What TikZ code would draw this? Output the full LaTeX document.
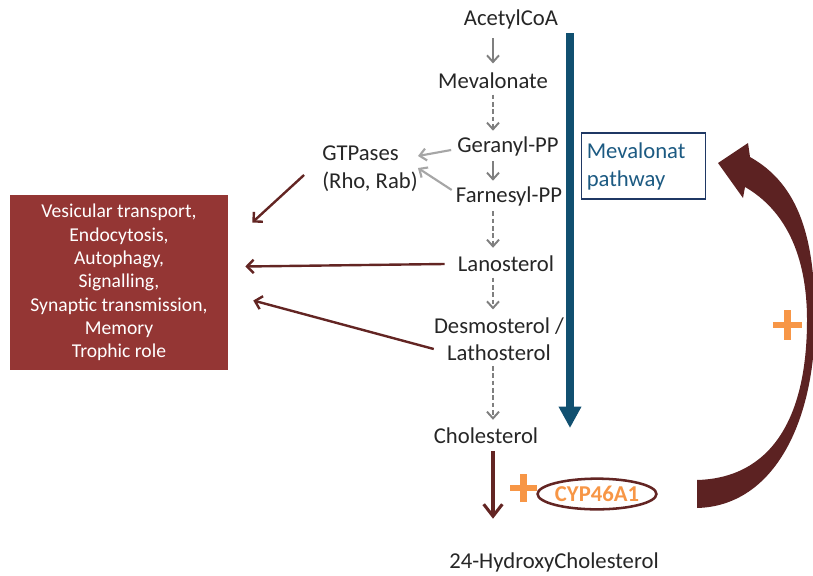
\documentclass[tikz,border=0pt]{standalone}
\usepackage{fontspec}
\setmainfont{Carlito}
\usetikzlibrary{arrows.meta,shapes.geometric,calc}
\definecolor{pathblue}{RGB}{17,80,112}
\definecolor{labelblue}{RGB}{28,90,130}
\definecolor{boxnavy}{RGB}{31,56,100}
\definecolor{boxred}{RGB}{148,54,52}
\definecolor{darkred}{RGB}{99,37,35}
\definecolor{curvered}{RGB}{92,34,34}
\definecolor{plusorange}{RGB}{247,150,70}
\definecolor{textgray}{RGB}{38,38,38}
\definecolor{stepgray}{RGB}{127,127,127}
\definecolor{sidegray}{RGB}{166,166,166}

\begin{document}
\begin{tikzpicture}[x = 0.75pt, y = -0.75pt,
        every node/.style={font=\fontsize{17}{20}\selectfont, text=textgray, inner sep=3pt, align=center},
        stepline/.style={-{Straight Barb[length=5pt,width=9pt]}, stepgray, line width=1.45pt},
        dashstep/.style={stepline, dash pattern=on 3.5pt off 2pt},
        sideline/.style={-{Straight Barb[length=5pt,width=9pt]}, sidegray, line width=1.6pt},
        effect/.style={-{Straight Barb[length=5pt,width=10pt]}, darkred, line width=1.8pt},
        plussign/.style={plusorange, line width=5.2pt}
]
    \useasboundingbox (0,0) rectangle (813,575);

    \node (acetyl) at (511,19) {AcetylCoA};
    \node (meval) at (493,81) {Mevalonate};
    \node (geranyl) at (508,146) {Geranyl-PP};
    \node (farnesyl) at (509,196) {Farnesyl-PP};
    \node (lano) at (506,264) {Lanosterol};
    \node (desmo) at (499,339) {Desmosterol /\\[0pt]Lathosterol};
    \node (chol) at (486,436) {Cholesterol};
    \node (hydroxy) at (554,562) {24-HydroxyCholesterol};
    \node[align=left] (gtp) at (370,169) {GTPases\\[1pt](Rho, Rab)};

    \node[fill=boxred, text=white, minimum width=163.5pt, minimum height=131pt,
          font=\fontsize{14.7}{17.5}\selectfont] (funcbox) at (119,282.5)
          {Vesicular transport,\\Endocytosis,\\Autophagy,\\Signalling,\\Synaptic transmission,\\Memory\\Trophic role};

    \node[draw=boxnavy, line width=1.4pt, text=labelblue, align=left, text width=85pt,
          minimum height=49pt, inner sep=4pt] (pathbox) at (643.5,166) {Mevalonat\\[1pt]pathway};

    \node[ellipse, draw=darkred, line width=1.9pt, minimum width=86pt, minimum height=23pt,
          inner sep=0pt, text=plusorange, font=\fontsize{17}{20}\selectfont\bfseries] (cyp) at (597,494) {CYP46A1};

    % main steps
    \draw[stepline, shorten <=4pt, shorten >=4pt] (acetyl.south -| meval) -- (meval.north);
    \draw[dashstep, shorten <=1pt, shorten >=1pt] (meval.south) -- (geranyl.north -| meval);
    \draw[stepline, shorten <=1pt, shorten >=1pt] (geranyl.south -| meval) -- (farnesyl.north -| meval);
    \draw[dashstep, shorten <=1pt, shorten >=3pt] (farnesyl.south -| meval) -- (lano.north -| meval);
    \draw[dashstep, shorten <=1pt, shorten >=3pt] (lano.south -| meval) -- (desmo.north -| meval);
    \draw[dashstep, shorten <=1pt, shorten >=3pt] (desmo.south -| meval) -- (chol.north -| meval);
    \draw[-{Straight Barb[length=9pt,width=14pt]}, darkred, line width=2.3pt, shorten <=2pt, shorten >=22pt]
        (chol.south -| meval) -- (hydroxy.north -| meval);

    % prenylation side branch
    \draw[sideline] ($(geranyl.west)+(-2,4)$) -- ($(gtp.east)+(-4,-13)$);
    \draw[sideline] ($(farnesyl.west)+(0,-6)$) -- ($(gtp.east)+(-4,-1)$);

    % effects
    \draw[effect] ($(gtp.west)+(-14,6)$) -- ($(funcbox.east)+(24,-60)$);
    \draw[effect] ($(lano.west)+(-9,0)$) -- ($(funcbox.east)+(17,-16)$);
    \draw[effect] ($(desmo.west)+(4,10)$) -- ($(funcbox.east)+(25,18)$);

    % mevalonate pathway arrow
    \coordinate (pathtop) at (570,33);
    \coordinate (pathend) at (570,428);
    \draw[-{Triangle[length=16pt,width=16pt]}, pathblue, line width=6pt] (pathtop) -- (pathend);

    % feedback arrow
    \fill[curvered] (697,508) .. controls (775,506) and (815,420) .. (815,320)
        .. controls (815,240) and (800,185) .. (750,157) -- (748,143) -- (718,163) -- (743,198) -- (745,187)
        .. controls (785,210) and (807,255) .. (807,320)
        .. controls (807,420) and (770,478) .. (697,480) -- cycle;

    % plus signs
    \coordinate (plusA) at (523.5,488);
    \coordinate (plusB) at (787.5,325);
    \draw[plussign] ([xshift=-10pt]plusA) -- ([xshift=10pt]plusA) ([yshift=-10.5pt]plusA) -- ([yshift=10.5pt]plusA);
    \draw[plussign] ([xshift=-11pt]plusB) -- ([xshift=11pt]plusB) ([yshift=-11pt]plusB) -- ([yshift=11pt]plusB);

\end{tikzpicture}
\end{document}
